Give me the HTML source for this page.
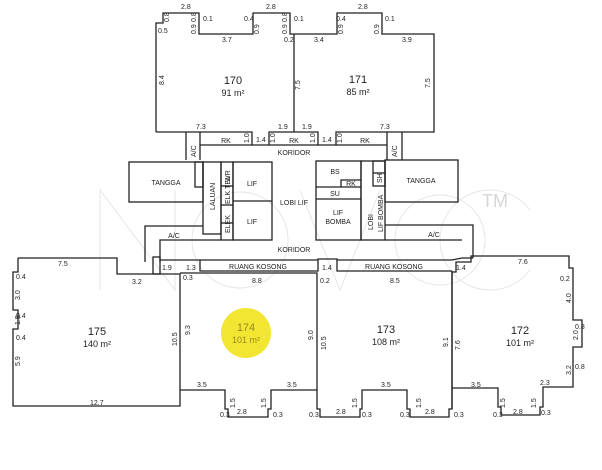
<!DOCTYPE html>
<html><head><meta charset="utf-8"><style>
html,body{margin:0;padding:0;background:#fff;}
svg{display:block}
text{font-family:"Liberation Sans Narrow","Liberation Sans",sans-serif;fill:#222;}
.s{font-size:7px}
.u{font-size:11px}
.a{font-size:9px}
</style></head><body>
<svg width="602" height="470" viewBox="0 0 602 470" xmlns="http://www.w3.org/2000/svg">
<rect width="602" height="470" fill="#fff"/>
<g fill="none" stroke="#e6e6e6" stroke-width="1">
<polyline points="100,290 100,190 175,290 175,190"/>
<circle cx="240" cy="240" r="48"/>
<polyline points="300,190 340,290 380,190"/>
<circle cx="440" cy="240" r="45"/>
<path d="M 530 210 A 50 50 0 1 0 530 270"/>
</g>
<text x="482" y="207" style="font-size:18px;fill:#d6d6d6">TM</text>
<circle cx="246" cy="333" r="25" fill="#f2e632"/>
<g fill="none" stroke="#222" stroke-width="1.3">
<polyline points="156,132 156,23 163,23 163,13 199,13 199,34 253,34 253,13 290,13 290,34 337,34 337,13 382,13 382,34 434,34 434,132 336,132 336,145 318,145 318,132 269,132 269,145 252,145 252,132 156,132"/>
<line x1="294" y1="34" x2="294" y2="132"/>
<polyline points="186,132 186,160"/><polyline points="200,132 200,160"/>
<line x1="200" y1="145" x2="252" y2="145"/><line x1="336" y1="145" x2="387" y2="145"/>
<line x1="387" y1="132" x2="387" y2="160"/><line x1="402" y1="132" x2="402" y2="160"/>
<line x1="269" y1="145" x2="318" y2="145"/>
<rect x="129" y="162" width="74" height="40"/>
<rect x="195" y="162" width="8" height="25"/>
<rect x="203" y="162" width="18" height="72"/>
<rect x="221" y="162" width="12" height="78"/>
<rect x="233" y="162" width="39" height="78"/>
<line x1="233" y1="201" x2="272" y2="201"/>
<line x1="221" y1="186" x2="233" y2="186"/><line x1="221" y1="205" x2="233" y2="205"/><line x1="221" y1="223" x2="233" y2="223"/>
<polyline points="145,262 145,226 203,226"/>
<polyline points="160,262 160,240 221,240"/>
<rect x="316" y="161" width="45" height="79"/>
<line x1="316" y1="187" x2="361" y2="187"/><line x1="316" y1="199" x2="361" y2="199"/>
<polyline points="341,187 341,180 361,180"/>
<rect x="361" y="161" width="24" height="79"/>
<rect x="373" y="161" width="12" height="25"/>
<line x1="373" y1="173" x2="385" y2="173"/>
<rect x="385" y="160" width="73" height="42"/>
<polyline points="385,225 473,225 473,258"/>
<line x1="385" y1="240" x2="462" y2="240"/>
<polyline points="160,260 200,260 200,271 318,271 318,259 337,259 337,271 452,271"/>
<line x1="200" y1="260" x2="318" y2="260"/>
<line x1="337" y1="260" x2="452" y2="260"/>
<polyline points="452,260 462,258 473,258"/>
<polyline points="18,258 117,258 117,274 180,274 180,406 13,406 13,329 18,329 18,310 13,310 13,272 18,272 18,258"/>
<rect x="153" y="257" width="7" height="17"/>
<polyline points="180,273 317,273 317,390 271,390 271,409 268,409 268,417 228,417 228,409 225,409 225,390 180,390"/>
<polyline points="317,390 317,409 320,409 320,417 360,417 360,409 362,409 362,390 407,390 407,409 410,409 410,417 449,417 449,409 452,409 452,271"/>
<polyline points="452,409 452,272 456,272 456,262 471,262 471,256 569,256 569,268 573,268 573,320 582,320 582,347 573,347 573,387 543,387 543,407 540,407 540,415 501,415 501,407 498,407 498,388 452,388"/>
</g>
<text class="u" x="233" y="84" text-anchor="middle">170</text>
<text class="a" x="233" y="96" text-anchor="middle">91 m²</text>
<text class="u" x="358" y="83" text-anchor="middle">171</text>
<text class="a" x="358" y="95" text-anchor="middle">85 m²</text>
<text class="u" x="97" y="335" text-anchor="middle">175</text>
<text class="a" x="97" y="347" text-anchor="middle">140 m²</text>
<text class="u" x="246" y="331" text-anchor="middle" style="fill:#998a20">174</text>
<text class="a" x="246" y="343" text-anchor="middle" style="fill:#998a20">101 m²</text>
<text class="u" x="386" y="333" text-anchor="middle">173</text>
<text class="a" x="386" y="345" text-anchor="middle">108 m²</text>
<text class="u" x="520" y="334" text-anchor="middle">172</text>
<text class="a" x="520" y="346" text-anchor="middle">101 m²</text>
<g class="s">
<text x="166" y="185" text-anchor="middle">TANGGA</text>
<text x="252" y="186" text-anchor="middle">LIF</text>
<text x="252" y="224" text-anchor="middle">LIF</text>
<text x="294" y="205" text-anchor="middle">LOBI LIF</text>
<text x="294" y="155" text-anchor="middle">KORIDOR</text>
<text x="294" y="252" text-anchor="middle">KORIDOR</text>
<text x="335" y="174" text-anchor="middle">BS</text>
<text x="351" y="186" text-anchor="middle">RK</text>
<text x="335" y="196" text-anchor="middle">SU</text>
<text x="338" y="215" text-anchor="middle">LIF</text>
<text x="338" y="224" text-anchor="middle">BOMBA</text>
<text x="421" y="183" text-anchor="middle">TANGGA</text>
<text x="174" y="238" text-anchor="middle">A/C</text>
<text x="434" y="237" text-anchor="middle">A/C</text>
<text x="258" y="269" text-anchor="middle">RUANG KOSONG</text>
<text x="394" y="269" text-anchor="middle">RUANG KOSONG</text>
<text x="226" y="143" text-anchor="middle">RK</text>
<text x="294" y="143" text-anchor="middle">RK</text>
<text x="365" y="143" text-anchor="middle">RK</text>
<text transform="translate(215,210) rotate(-90)">LALUAN</text>
<text transform="translate(230,233) rotate(-90)">ELEK</text>
<text transform="translate(230,204) rotate(-90)">ELK TEL</text>
<text transform="translate(230,182) rotate(-90)">WR</text>
<text transform="translate(382,183) rotate(-90)">SH</text>
<text transform="translate(373,230) rotate(-90)">LOBI</text>
<text transform="translate(383,232) rotate(-90)">LIF BOMBA</text>
<text transform="translate(196,157) rotate(-90)">A/C</text>
<text transform="translate(397,157) rotate(-90)">A/C</text>
</g>
<g class="s">
<text x="181" y="9">2.8</text><text x="266" y="9">2.8</text><text x="358" y="9">2.8</text>
<text x="158" y="33">0.5</text><text x="203" y="21">0.1</text><text x="244" y="21">0.4</text><text x="294" y="21">0.1</text><text x="336" y="21">0.4</text><text x="385" y="21">0.1</text>
<text x="222" y="42">3.7</text><text x="284" y="42">0.2</text><text x="314" y="42">3.4</text><text x="402" y="42">3.9</text>
<text x="196" y="129">7.3</text><text x="278" y="129">1.9</text><text x="302" y="129">1.9</text><text x="380" y="129">7.3</text>
<text x="256" y="142">1.4</text><text x="322" y="142">1.4</text>
<text x="58" y="266">7.5</text><text x="132" y="284">3.2</text><text x="162" y="270">1.9</text><text x="186" y="270">1.3</text><text x="183" y="280">0.3</text>
<text x="322" y="270">1.4</text><text x="456" y="270">1.4</text><text x="518" y="264">7.6</text>
<text x="252" y="283">8.8</text><text x="390" y="283">8.5</text><text x="320" y="283">0.2</text>
<text x="16" y="279">0.4</text><text x="16" y="318">0.4</text><text x="16" y="340">0.4</text>
<text x="560" y="281">0.2</text><text x="575" y="329">0.8</text><text x="575" y="369">0.8</text>
<text x="90" y="405">12.7</text>
<text x="197" y="387">3.5</text><text x="287" y="387">3.5</text><text x="381" y="387">3.5</text><text x="471" y="387">3.5</text><text x="540" y="385">2.3</text>
<text x="237" y="414">2.8</text><text x="336" y="414">2.8</text><text x="425" y="414">2.8</text><text x="513" y="414">2.8</text>
<text x="220" y="417">0.3</text><text x="273" y="417">0.3</text><text x="309" y="417">0.3</text><text x="362" y="417">0.3</text><text x="400" y="417">0.3</text><text x="454" y="417">0.3</text><text x="493" y="417">0.3</text><text x="541" y="415">0.3</text>
</g>
<g class="s">
<text transform="translate(164,85) rotate(-90)">8.4</text>
<text transform="translate(300,90) rotate(-90)">7.5</text>
<text transform="translate(430,88) rotate(-90)">7.5</text>
<text transform="translate(169,22) rotate(-90)">0.8</text>
<text transform="translate(196,22) rotate(-90)">0.8</text>
<text transform="translate(196,34) rotate(-90)">0.9</text>
<text transform="translate(259,34) rotate(-90)">0.9</text>
<text transform="translate(287,22) rotate(-90)">0.8</text>
<text transform="translate(287,34) rotate(-90)">0.9</text>
<text transform="translate(343,34) rotate(-90)">0.9</text>
<text transform="translate(379,34) rotate(-90)">0.9</text>
<text transform="translate(249,143) rotate(-90)">1.0</text>
<text transform="translate(275,143) rotate(-90)">1.0</text>
<text transform="translate(315,143) rotate(-90)">1.0</text>
<text transform="translate(342,143) rotate(-90)">1.0</text>
<text transform="translate(20,300) rotate(-90)">3.0</text>
<text transform="translate(20,325) rotate(-90)">1.5</text>
<text transform="translate(20,366) rotate(-90)">5.9</text>
<text transform="translate(177,346) rotate(-90)">10.5</text>
<text transform="translate(190,335) rotate(-90)">9.3</text>
<text transform="translate(313,340) rotate(-90)">9.0</text>
<text transform="translate(326,350) rotate(-90)">10.5</text>
<text transform="translate(448,347) rotate(-90)">9.1</text>
<text transform="translate(460,350) rotate(-90)">7.6</text>
<text transform="translate(571,303) rotate(-90)">4.0</text>
<text transform="translate(578,340) rotate(-90)">2.0</text>
<text transform="translate(571,375) rotate(-90)">3.2</text>
<text transform="translate(235,408) rotate(-90)">1.5</text>
<text transform="translate(266,408) rotate(-90)">1.5</text>
<text transform="translate(357,408) rotate(-90)">1.5</text>
<text transform="translate(421,408) rotate(-90)">1.5</text>
<text transform="translate(505,408) rotate(-90)">1.5</text>
<text transform="translate(536,408) rotate(-90)">1.5</text>
</g>
</svg>
</body></html>
